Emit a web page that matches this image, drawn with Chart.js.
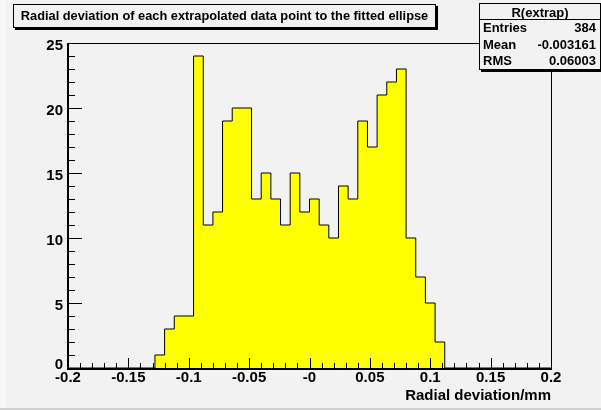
<!DOCTYPE html>
<html><head><meta charset="utf-8">
<script src="https://cdn.jsdelivr.net/npm/chart.js@4.4.0/dist/chart.umd.min.js"></script>
<style>
html,body{margin:0;padding:0;background:#f2f2f2;}
#wrap{position:relative;width:601px;height:410px;overflow:hidden;background:#f2f2f2;font-family:"Liberation Sans",Arial,Helvetica,sans-serif;font-weight:bold;color:#000;}
#c{position:absolute;left:0;top:0;}
#leftstrip{position:absolute;left:0;top:0;width:6px;height:408px;background:#f8f8f8;}
#bottomline{position:absolute;left:0;top:408px;width:601px;height:2px;background:#cfcfcf;}
.box{position:absolute;border:1px solid #000;background:#f2f2f2;box-sizing:border-box;box-shadow:2px 2px 0 #000;}
#title{left:13px;top:4px;width:423px;height:24px;font-size:12.8px;line-height:22px;text-align:center;white-space:nowrap;}
#stats{left:479px;top:3px;width:122px;height:67px;font-size:13px;}
#stats .hdr{position:absolute;left:0;right:0;top:0;height:15px;line-height:17px;text-align:center;border-bottom:1px solid #000;}
#stats .row{position:absolute;left:3px;right:4px;height:16px;line-height:16px;}
#stats .row .v{position:absolute;right:0;top:0;}
</style>
</head>
<body>
<div id="wrap">
  <div id="leftstrip"></div>
  <canvas id="c" width="601" height="410"></canvas>
  <div id="title" class="box"></div>
  <div id="stats" class="box"></div>
  <div id="bottomline"></div>
</div>
<script>
// ---- data ----
const histTitle = "Radial deviation of each extrapolated data point to the fitted ellipse";
const xAxisTitle = "Radial deviation/mm";
const xMin = -0.2, xMax = 0.2, nBins = 50;
const binCounts = [0,0,0,0,0,0,0,0,0,1,3,4,4,24,11,12,19,20,20,13,15,13,11,15,12,13,11,10,14,13,19,17,21,22,23,10,7,5,2,0,0,0,0,0,0,0,0,0,0,0];
const xTickValues = [-0.2,-0.15,-0.1,-0.05,0,0.05,0.1,0.15,0.2];
const xTickLabels = ["-0.2","-0.15","-0.1","-0.05","-0","0.05","0.1","0.15","0.2"];
const yTickValues = [0,5,10,15,20,25];
const yTickLabels = ["0","5","10","15","20","25"];
const statsName = "R(extrap)";
const statsLabels = ["Entries","Mean","RMS"];
const statsValues = ["384","-0.003161","0.06003"];

// ---- overlay text boxes ----
document.getElementById('title').textContent = histTitle;
const st = document.getElementById('stats');
const hdr = document.createElement('div'); hdr.className='hdr'; hdr.textContent = statsName; st.appendChild(hdr);
const rowTops = [16,33,49];
statsLabels.forEach((l,i)=>{
  const r = document.createElement('div'); r.className='row'; r.style.top = rowTops[i]+'px';
  const a = document.createElement('span'); a.textContent = l;
  const b = document.createElement('span'); b.className='v'; b.textContent = statsValues[i];
  r.appendChild(a); r.appendChild(b); st.appendChild(r);
});

// ---- histogram points (bin low edges) ----
const binWidth = (xMax - xMin) / nBins;
const pts = binCounts.map((c,i)=>({x: xMin + i*binWidth, y: c}));
pts.push({x: xMax, y: binCounts[binCounts.length-1]});

const FONT = '"Liberation Sans", Arial, Helvetica, sans-serif';

const frameTicks = {
  id: 'frameTicks',
  afterDatasetsDraw(chart){
    const {ctx, chartArea:a, scales:{x, y}} = chart;
    const L = Math.round(a.left), R = Math.round(a.right), T = Math.round(a.top), B = Math.round(a.bottom);
    ctx.save();
    ctx.strokeStyle = '#000';
    ctx.lineWidth = 1;
    ctx.beginPath();
    ctx.moveTo(L, T+0.5); ctx.lineTo(R+0.5, T+0.5);
    ctx.moveTo(R+0.5, T); ctx.lineTo(R+0.5, B);
    ctx.stroke();
    ctx.lineWidth = 2;
    ctx.beginPath();
    ctx.moveTo(L, T); ctx.lineTo(L, B+1);
    ctx.moveTo(L-1, B+1); ctx.lineTo(R+1, B+1);
    ctx.stroke();
    ctx.lineWidth = 1;
    ctx.beginPath();
    for (let k = 0; k <= 40; k++) {
      const v = xMin + k*0.01;
      const px = Math.round(x.getPixelForValue(v)) + 0.5;
      const len = (k % 5 === 0) ? 10 : 5;
      ctx.moveTo(px, B); ctx.lineTo(px, B - len);
    }
    for (let k = 0; k <= 25; k++) {
      const py = Math.round(y.getPixelForValue(k)) + 0.5;
      const len = (k % 5 === 0) ? 14 : 7;
      ctx.moveTo(L, py); ctx.lineTo(L + len, py);
    }
    ctx.stroke();
    ctx.restore();
  }
};

new Chart(document.getElementById('c'), {
  type: 'line',
  data: {
    datasets: [{
      data: pts,
      stepped: true,
      fill: 'origin',
      backgroundColor: '#ffff00',
      borderColor: '#000',
      borderWidth: 1,
      pointRadius: 0,
      tension: 0
    }]
  },
  options: {
    responsive: false,
    animation: false,
    events: [],
    layout: { padding: { top: 43, right: 50, bottom: 0, left: 0 } },
    plugins: { legend: { display: false }, tooltip: { enabled: false }, title: { display: false } },
    scales: {
      x: {
        type: 'linear', min: xMin, max: xMax,
        afterBuildTicks: s => { s.ticks = xTickValues.map(v => ({ value: v })); },
        afterFit: s => { s.height = 42; },
        grid: { display: false, drawTicks: false },
        border: { display: false },
        ticks: {
          callback: (v, i) => xTickLabels[i],
          color: '#000', padding: 1, maxRotation: 0, autoSkip: false,
          font: { family: FONT, size: 15, weight: 'bold' }
        },
        title: {
          display: true, text: xAxisTitle, align: 'end', color: '#000',
          font: { family: FONT, size: 15, weight: 'bold' },
          padding: { top: 0, bottom: 5 }
        }
      },
      y: {
        min: 0, max: 25,
        afterBuildTicks: s => { s.ticks = yTickValues.map(v => ({ value: v })); },
        afterFit: s => { s.width = 68; },
        grid: { display: false, drawTicks: false },
        border: { display: false },
        ticks: {
          callback: (v, i) => (i === 0 ? [yTickLabels[i], ''] : yTickLabels[i]),
          color: '#000', padding: 5, labelOffset: 2.5,
          font: c => ({ family: FONT, size: 15, weight: 'bold', lineHeight: c.index === 0 ? 0.8 : 1.2 })
        }
      }
    }
  },
  plugins: [frameTicks]
});
</script>
</body></html>
